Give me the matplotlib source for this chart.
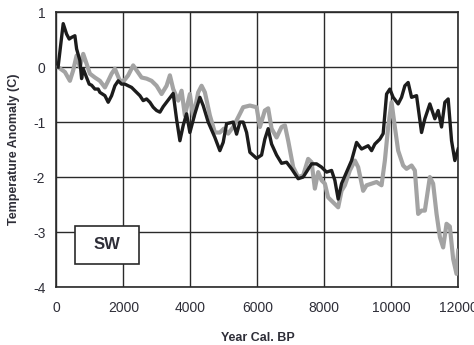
import matplotlib
matplotlib.use("Agg")
import matplotlib.pyplot as plt
from matplotlib.patches import Rectangle

plt.rcParams['font.family'] = ['Liberation Sans', 'DejaVu Sans']

# Reconstruction 1 (black)
years_a = [50, 203, 304, 382, 454, 552, 603, 701, 752, 800, 901, 979, 1051, 1149,
           1248, 1298, 1448, 1546, 1648, 1746, 1845, 1946, 2045, 2143, 2245, 2343,
           2493, 2591, 2692, 2791, 2889, 2991, 3090, 3188, 3337, 3486, 3588, 3687,
           3786, 3886, 3985, 4134, 4284, 4382, 4531, 4731, 4880, 4979, 5080, 5278,
           5379, 5478, 5576, 5678, 5776, 5976, 6125, 6223, 6322, 6424, 6573, 6722,
           6872, 7021, 7218, 7367, 7618, 7767, 7916, 8066, 8215, 8313, 8412, 8513,
           8662, 8812, 8961, 9110, 9307, 9409, 9507, 9657, 9755, 9857, 9955, 10053,
           10203, 10304, 10403, 10501, 10603, 10752, 10901, 11000, 11149, 11298,
           11397, 11498, 11597, 11696, 11797, 11895, 11994]
temp_a = [0.0, 0.79, 0.60, 0.51, 0.54, 0.57, 0.33, 0.12, -0.21, -0.03, -0.19, -0.31,
          -0.33, -0.40, -0.40, -0.46, -0.52, -0.64, -0.52, -0.34, -0.25, -0.31, -0.31,
          -0.34, -0.37, -0.43, -0.52, -0.61, -0.58, -0.64, -0.73, -0.79, -0.82, -0.72,
          -0.60, -0.48, -0.95, -1.34, -1.06, -0.85, -1.19, -0.85, -0.55, -0.70, -1.00,
          -1.28, -1.52, -1.37, -1.03, -1.00, -1.22, -1.00, -1.00, -1.19, -1.55, -1.66,
          -1.60, -1.31, -1.12, -1.40, -1.60, -1.75, -1.73, -1.85, -2.03, -2.00, -1.76,
          -1.76, -1.82, -1.91, -1.88, -2.06, -2.40, -2.12, -1.91, -1.70, -1.37, -1.49,
          -1.43, -1.52, -1.40, -1.31, -1.21, -0.49, -0.40, -0.55, -0.67, -0.55, -0.34,
          -0.28, -0.55, -0.52, -1.19, -0.94, -0.67, -0.94, -0.79, -1.09, -0.64, -0.58,
          -1.34, -1.70, -1.49]

# Reconstruction 2 (grey)
years_b = [50, 254, 403, 501, 603, 701, 800, 901, 1000, 1149, 1298, 1448, 1546, 1648,
           1746, 1895, 2015, 2143, 2292, 2394, 2543, 2692, 2841, 2991, 3140, 3289,
           3388, 3487, 3636, 3737, 3836, 3985, 4084, 4233, 4334, 4433, 4582, 4731,
           4880, 5000, 5128, 5278, 5478, 5576, 5776, 5976, 6075, 6223, 6322, 6424,
           6573, 6722, 6822, 6920, 7069, 7218, 7367, 7516, 7618, 7716, 7815, 7916,
           8015, 8113, 8262, 8412, 8513, 8612, 8761, 8911, 9009, 9158, 9259, 9409,
           9558, 9707, 9806, 9904, 10006, 10104, 10203, 10352, 10453, 10603, 10701,
           10800, 10901, 11000, 11149, 11247, 11349, 11448, 11546, 11647, 11746,
           11845, 11945, 11994]
temp_b = [0.0, -0.09, -0.25, -0.06, 0.21, 0.0, 0.24, 0.06, -0.12, -0.19, -0.25, -0.37,
          -0.25, -0.12, -0.03, -0.25, -0.25, -0.15, 0.03, -0.06, -0.19, -0.21, -0.25,
          -0.34, -0.49, -0.34, -0.15, -0.40, -0.61, -0.43, -0.88, -0.49, -0.91, -0.46,
          -0.34, -0.46, -0.88, -1.19, -1.19, -1.12, -1.21, -1.09, -0.85, -0.73, -0.70,
          -0.73, -1.09, -0.79, -0.75, -1.12, -1.28, -1.09, -1.06, -1.34, -1.82, -2.00,
          -1.97, -1.67, -1.73, -2.21, -1.91, -2.06, -2.12, -2.37, -2.46, -2.55, -2.25,
          -2.15, -1.88, -1.70, -1.82, -2.25, -2.15, -2.12, -2.09, -2.15, -1.70, -1.09,
          -0.64, -1.09, -1.52, -1.79, -1.85, -1.79, -1.88, -2.67, -2.61, -2.61, -2.00,
          -2.12, -2.67, -3.09, -3.28, -2.85, -2.90, -3.49, -3.76, -3.34]

x_ticks = [0, 2000, 4000, 6000, 8000, 10000, 12000]
y_ticks = [-4, -3, -2, -1, 0, 1]
region_label = "SW"

text_color = "#2e2e38"

fig = plt.figure(figsize=(4.74, 3.45), dpi=100)
ax = fig.add_axes([0.119, 0.168, 0.848, 0.797])

ax.plot(years_b, temp_b, color="#a3a3a3", lw=3.0, solid_joinstyle="round", zorder=3)
ax.plot(years_a, temp_a, color="#1c1c1c", lw=2.4, solid_joinstyle="round", zorder=4)

ax.set_xlim(0, 12000)
ax.set_ylim(-4, 1)
ax.set_xticks(x_ticks)
ax.set_yticks(y_ticks)
ax.set_xticklabels([str(t) for t in x_ticks])
ax.set_yticklabels([str(t) for t in y_ticks])
ax.grid(True, color="#2a2a2a", lw=1.0, zorder=1)
ax.set_axisbelow(True)
for s in ax.spines.values():
    s.set_color("#2a2a2a")
    s.set_linewidth(1.2)
ax.tick_params(axis="x", length=0, pad=10, labelsize=10, colors=text_color)
ax.tick_params(axis="y", length=0, pad=8, labelsize=10, colors=text_color)

ax.set_xlabel("Year Cal. BP", fontsize=9, fontweight="bold", color=text_color, labelpad=12)
ax.set_ylabel("Temperature Anomaly (C)", fontsize=9, fontweight="bold",
              color=text_color, labelpad=9)

# Region box
box = Rectangle((560, -3.58), 1910, 0.69, facecolor="white", edgecolor="#2a2a2a",
                lw=1.2, zorder=5)
ax.add_patch(box)
ax.text(1515, -3.235, region_label, ha="center", va="center", fontsize=12,
        fontweight="bold", color=text_color, zorder=6)

fig.savefig("out.png", dpi=100)
